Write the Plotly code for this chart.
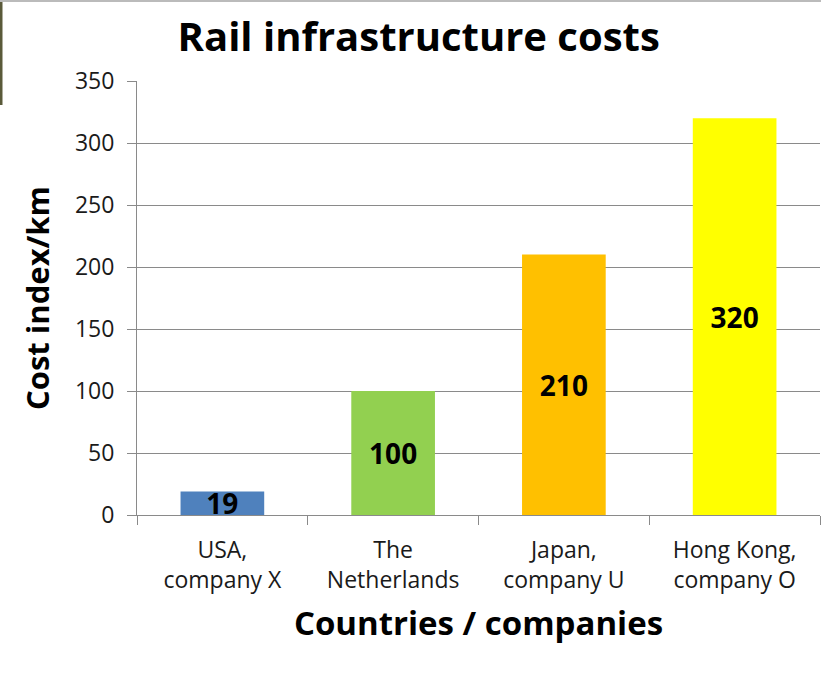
import plotly.graph_objects as go

categories = ["USA,<br>company X", "The<br>Netherlands", "Japan,<br>company U", "Hong Kong,<br>company O"]
values = [19, 100, 210, 320]
colors = ["#4F81BD", "#92D050", "#FFC000", "#FFFF00"]
y_ticks = [0, 50, 100, 150, 200, 250, 300, 350]

FONT = "Open Sans"

fig = go.Figure(go.Bar(
    x=categories, y=values, marker=dict(color=colors, line=dict(width=0)),
    width=0.49,
    text=[str(v) for v in values], textposition="inside", insidetextanchor="middle",
    constraintext="none", cliponaxis=False,
    textfont=dict(family=FONT, size=28, color="black", weight="bold"),
    textangle=0, hoverinfo="skip",
))

fig.update_layout(
    width=821, height=677,
    margin=dict(l=137, r=1, t=81, b=162),
    plot_bgcolor="white", paper_bgcolor="white",
    showlegend=False,
    title=dict(text="<b>Rail infrastructure costs</b>", x=0.510, xanchor="center",
               y=1 - 37 / 677, yanchor="middle",
               font=dict(family=FONT, size=40, color="black")),
    font=dict(family=FONT, color="#222"),
)
fig.update_yaxes(
    range=[0, 350], tickvals=y_ticks, showgrid=True, gridcolor="#8a8a8a", gridwidth=1,
    showline=True, linecolor="#8a8a8a", linewidth=1, ticks="outside", ticklen=9,
    tickcolor="#8a8a8a", tickfont=dict(family=FONT, size=23, color="#1a1a1a"),
    ticklabelstandoff=8,
    zeroline=False,
    title=dict(text="<b>Cost index/km</b>", font=dict(family=FONT, size=31, color="black"), standoff=16),
)
fig.update_xaxes(
    showline=True, linecolor="#8a8a8a", linewidth=1, ticks="outside", ticklen=9,
    tickcolor="#8a8a8a", tickson="boundaries",
    tickfont=dict(family=FONT, size=23, color="#1a1a1a"),
    ticklabelstandoff=14,
    title=dict(text="<b>Countries / companies</b>", font=dict(family=FONT, size=33, color="black"), standoff=18),
)
fig.add_shape(type="line", xref="paper", yref="paper", x0=-136/683, x1=-136/683, y0=1+81/434, y1=1+(81-105)/434,
              line=dict(color="#5a5a3a", width=3))
fig.add_shape(type="line", xref="paper", yref="paper", x0=-137/683, x1=1+1/683, y0=1+80/434, y1=1+80/434,
              line=dict(color="#bbbbbb", width=2))

fig.write_html("out.html", post_script="document.body.style.margin='0';",
               config={"displayModeBar": False})
